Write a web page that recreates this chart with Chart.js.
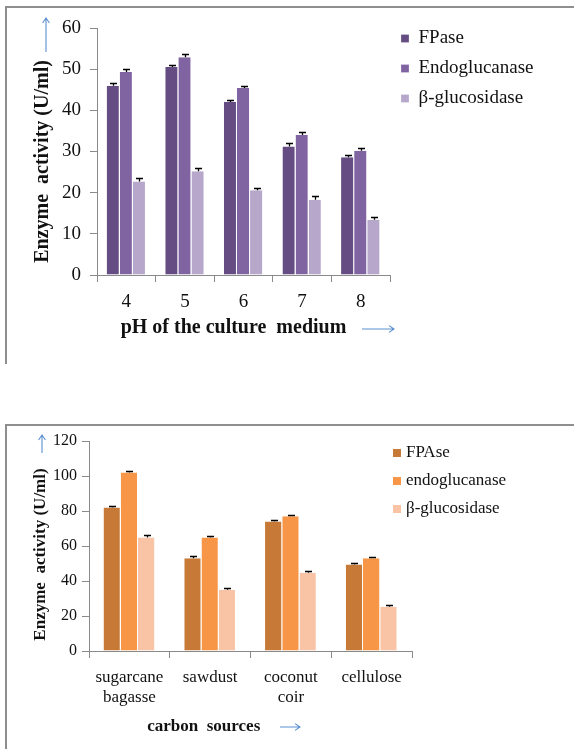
<!DOCTYPE html>
<html><head><meta charset="utf-8">
<script src="https://cdn.jsdelivr.net/npm/chart.js@4/dist/chart.umd.min.js"></script>
<style>
html,body{margin:0;padding:0;background:#fff;width:574px;height:749px;overflow:hidden;position:relative}
.frame{position:absolute;border-left:2px solid #8e8e8e;border-top:2px solid #8e8e8e;}
#f1{left:5px;top:6px;width:600px;height:356px}
#f2{left:5px;top:424px;width:600px;height:340px}
.wrap{position:absolute;left:0;width:574px}
#w1{top:0;height:370px}
#w2{top:400px;height:349px}
canvas{display:block}
</style></head><body>
<div class="frame" id="f1"></div><div class="frame" id="f2"></div>
<div class="wrap" id="w1"><canvas id="c1" width="574" height="370"></canvas></div>
<div class="wrap" id="w2"><canvas id="c2" width="574" height="349"></canvas></div>
<script>
// ---- data: chart 1 (pH) ----
const phLabels = ['4', '5', '6', '7', '8'];
const phSeriesNames = ['FPase', 'Endoglucanase', 'β-glucosidase'];
const phFPase = [46.0, 50.5, 42.0, 31.2, 28.6];
const phFPaseErr = [0.6, 0.6, 0.5, 0.8, 0.5];
const phEndo = [49.3, 52.9, 45.4, 34.0, 30.2];
const phEndoErr = [0.8, 0.9, 0.5, 0.8, 0.6];
const phBeta = [22.7, 25.2, 20.6, 18.3, 13.4];
const phBetaErr = [0.8, 0.8, 0.5, 0.9, 0.8];

// ---- data: chart 2 (carbon sources) ----
const carbonLabels = [['sugarcane', 'bagasse'], 'sawdust', ['coconut', 'coir'], 'cellulose'];
const carbonSeriesNames = ['FPAse', 'endoglucanase', 'β-glucosidase'];
const cFPase = [82.0, 53.0, 74.0, 49.5];
const cFPaseErr = [1.0, 1.5, 1.0, 1.0];
const cEndo = [102.0, 64.8, 77.0, 53.0];
const cEndoErr = [1.0, 1.0, 1.0, 1.0];
const cBeta = [64.8, 35.0, 44.7, 25.3];
const cBetaErr = [1.5, 1.0, 1.0, 1.2];

const FAMILY = "'Liberation Serif', 'Times New Roman', serif";
Chart.defaults.font.family = FAMILY;
Chart.defaults.color = '#111';

// error bars drawn from the library's bar elements and y scale
const errorBars = {
  id: 'errorBars',
  afterDatasetsDraw(chart) {
    const ctx = chart.ctx, ys = chart.scales.y;
    chart.data.datasets.forEach((ds, i) => {
      if (!ds.errors) return;
      const meta = chart.getDatasetMeta(i);
      meta.data.forEach((bar, j) => {
        const yTop = Math.round(ys.getPixelForValue(ds.data[j] + ds.errors[j])) + 0.5;
        const x = Math.round(bar.x) + 0.5;
        ctx.save();
        ctx.strokeStyle = '#000';
        ctx.lineWidth = 1.3;
        ctx.beginPath();
        ctx.moveTo(x, bar.y); ctx.lineTo(x, yTop);
        ctx.moveTo(x - 3.5, yTop); ctx.lineTo(x + 3.5, yTop);
        ctx.stroke();
        ctx.restore();
      });
    });
  }
};

// blue axis arrows (decoration)
const arrows = {
  id: 'arrows',
  afterDraw(chart, args, opts) {
    const ctx = chart.ctx;
    (opts.list || []).forEach(a => {
      const ang = Math.atan2(a.y2 - a.y1, a.x2 - a.x1), h = 6;
      ctx.save();
      ctx.strokeStyle = '#5b8fd0';
      ctx.lineWidth = 1.1;
      ctx.beginPath();
      ctx.moveTo(a.x1, a.y1); ctx.lineTo(a.x2, a.y2);
      ctx.moveTo(a.x2 - h * Math.cos(ang - 0.6), a.y2 - h * Math.sin(ang - 0.6));
      ctx.lineTo(a.x2, a.y2);
      ctx.lineTo(a.x2 - h * Math.cos(ang + 0.6), a.y2 - h * Math.sin(ang + 0.6));
      ctx.stroke();
      ctx.restore();
    });
  }
};

// legend placed inside the plot area (chart 2)
const insideLegend = {
  id: 'insideLegend',
  afterDraw(chart, args, opts) {
    if (!opts.show) return;
    const ctx = chart.ctx, ca = chart.chartArea;
    ctx.save();
    ctx.font = `${opts.size}px ${FAMILY}`;
    ctx.textBaseline = 'middle';
    ctx.textAlign = 'left';
    chart.data.datasets.forEach((ds, i) => {
      const cy = ca.top + opts.dy + i * opts.step;
      const x = ca.right + opts.dx;
      ctx.fillStyle = ds.backgroundColor;
      ctx.fillRect(x, Math.round(cy - 4), 8, 8);
      ctx.fillStyle = '#111';
      ctx.fillText(ds.label, x + 13, cy);
    });
    ctx.restore();
  }
};

function textW(t, font) {
  const c = document.createElement('canvas').getContext('2d');
  c.font = font; return c.measureText(t).width;
}

// ---------- chart 1 ----------
const leg1Size = 19;
const leg1Text = Math.max(...phSeriesNames.map(t => textW(t, `normal ${leg1Size}px ${FAMILY}`)));
const leg1Width = 11 + 8 + leg1Size / 2 + leg1Text + 10;
const pad1Right = Math.max(0, 574 - 390 - leg1Width);

const barStyle = {borderWidth: {top: 0, left: 0, bottom: 0, right: 1}, borderColor: '#ffffff', borderSkipped: false};

new Chart(document.getElementById('c1'), {
  type: 'bar',
  data: {
    labels: phLabels,
    datasets: [
      Object.assign({label: phSeriesNames[0], data: phFPase, errors: phFPaseErr, backgroundColor: '#654d83'}, barStyle),
      Object.assign({label: phSeriesNames[1], data: phEndo, errors: phEndoErr, backgroundColor: '#8064a2'}, barStyle),
      Object.assign({label: phSeriesNames[2], data: phBeta, errors: phBetaErr, backgroundColor: '#b6a7cb'}, barStyle)
    ]
  },
  options: {
    responsive: false, animation: false, devicePixelRatio: 1,
    layout: {padding: {top: 18, left: 0, right: pad1Right, bottom: 0}},
    datasets: {bar: {categoryPercentage: 0.67, barPercentage: 1}},
    scales: {
      x: {
        grid: {drawOnChartArea: false, tickLength: 7, color: '#8a8a8a', offset: true},
        border: {color: '#8a8a8a'},
        ticks: {font: {size: 19}, color: '#111', padding: 8.6},
        title: {display: true, text: 'pH of the culture  medium\u2003', font: {size: 20, weight: 'bold'}, color: '#111', padding: {top: 0, bottom: 30}},
        afterFit(s) { s.height = 95; }
      },
      y: {
        min: 0, max: 60,
        ticks: {stepSize: 10, font: {size: 19}, color: '#111', padding: 9},
        grid: {drawOnChartArea: false, tickLength: 7, color: '#8a8a8a'},
        border: {color: '#8a8a8a'},
        title: {display: true, text: 'Enzyme  activity (U/ml)\u2003', font: {size: 20, weight: 'bold'}, color: '#111', padding: {top: 31, bottom: 0}},
        afterFit(s) { s.width = 97; s.paddingTop = 28; }
      }
    },
    plugins: {
      legend: {
        position: 'right', align: 'start', maxWidth: 260,
        labels: {boxWidth: 8, boxHeight: 8, padding: 11, font: {size: leg1Size}, color: '#111'}
      },
      tooltip: {enabled: false},
      arrows: {list: [{x1: 46, y1: 52, x2: 46, y2: 18}, {x1: 362, y1: 329, x2: 394, y2: 329}]}
    }
  },
  plugins: [errorBars, arrows]
});

// ---------- chart 2 ----------
new Chart(document.getElementById('c2'), {
  type: 'bar',
  data: {
    labels: carbonLabels,
    datasets: [
      Object.assign({label: carbonSeriesNames[0], data: cFPase, errors: cFPaseErr, backgroundColor: '#c77a37'}, barStyle),
      Object.assign({label: carbonSeriesNames[1], data: cEndo, errors: cEndoErr, backgroundColor: '#f79646'}, barStyle),
      Object.assign({label: carbonSeriesNames[2], data: cBeta, errors: cBetaErr, backgroundColor: '#f9c3a6'}, barStyle)
    ]
  },
  options: {
    responsive: false, animation: false, devicePixelRatio: 1,
    layout: {padding: {top: 0, left: 0, right: 162, bottom: 0}},
    datasets: {bar: {categoryPercentage: 0.64, barPercentage: 1}},
    scales: {
      x: {
        grid: {drawOnChartArea: false, tickLength: 7, color: '#8a8a8a', offset: true},
        border: {color: '#8a8a8a'},
        ticks: {font: {size: 17, lineHeight: 1.2}, color: '#111', padding: 9, maxRotation: 0, autoSkip: false},
        title: {display: true, text: 'carbon  sources' + '\u2003'.repeat(5) + '\u2002', font: {size: 17, weight: 'bold'}, color: '#111', padding: {top: 0, bottom: 11.8}},
        afterFit(s) { s.height = 98; }
      },
      y: {
        min: 0, max: 120,
        ticks: {stepSize: 20, font: {size: 16}, color: '#111', padding: 5},
        grid: {drawOnChartArea: false, tickLength: 7, color: '#8a8a8a'},
        border: {color: '#8a8a8a'},
        title: {display: true, text: 'Enzyme  activity (U/ml)\u2003', font: {size: 17, weight: 'bold'}, color: '#111', padding: {top: 30.8, bottom: 0}},
        afterFit(s) { s.width = 89; s.paddingTop = 41; }
      }
    },
    plugins: {
      legend: {display: false},
      tooltip: {enabled: false},
      insideLegend: {show: true, size: 17, dx: -19, dy: 12, step: 28},
      arrows: {list: [{x1: 42, y1: 53, x2: 42, y2: 35}, {x1: 280, y1: 327, x2: 300, y2: 327}]}
    }
  },
  plugins: [errorBars, arrows, insideLegend]
});
</script>
</body></html>
